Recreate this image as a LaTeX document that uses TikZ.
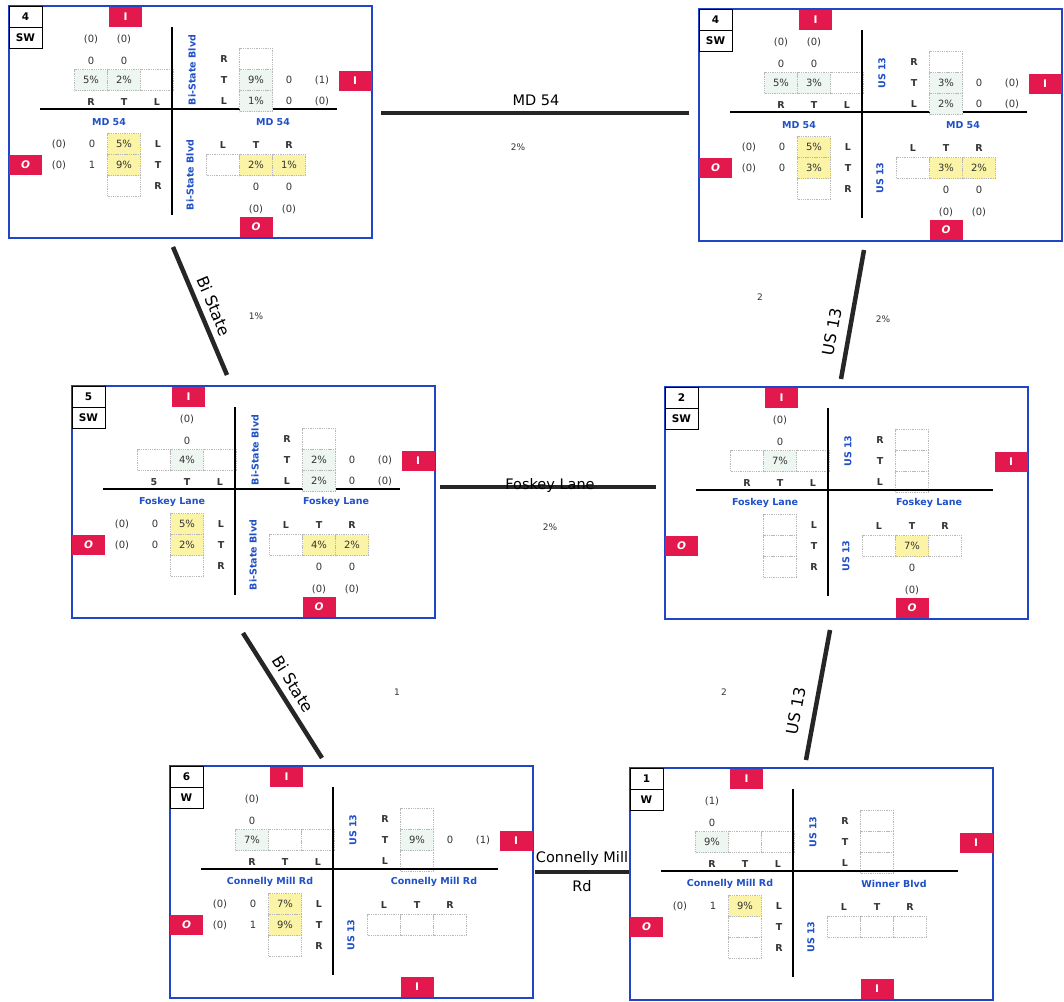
\documentclass[tikz,border=0pt]{standalone}
\usepackage{fontspec}
\setmainfont{DejaVu Sans}
\usetikzlibrary{positioning,calc}
\definecolor{frm}{HTML}{1F45C8}
\definecolor{tagred}{HTML}{E3184C}
\definecolor{mnt}{HTML}{EEF6F1}
\definecolor{yel}{HTML}{FBF4A6}
\definecolor{rdblue}{HTML}{1F50C8}
\definecolor{txt}{HTML}{333333}
% one intersection panel: name, top-left corner, number, direction, south tag, N-S road, west road, east road, first TL label
\newcommand{\junction}[9]{%
\begin{scope}[shift={#2}]
 \draw[jbox] (0,0) rectangle (363,232);
 \node[idx] (#1-no) at (16.5,10.5) {#3}; \node[idx] (#1-dir) at (16.5,31.5) {#4};
 \node[tag] (#1-in) at (116.5,11) {I}; \node[tag] (#1-ie) at (346,74.5) {I};
 \node[tag] (#1-ow) at (16.5,158.5) {\itshape O}; \node[tag] (#1-os) at (247,221) {#5};
 \foreach \xx [count=\i] in {82,115,148} {\node[cell] (#1-tl\i) at (\xx,74) {}; \node[cell] (#1-br\i) at (\xx+132,159) {};}
 \foreach \yy [count=\i] in {53,74,95} {\node[cell] (#1-tr\i) at (247,\yy) {}; \node[cell] (#1-bl\i) at (115,\yy+85) {};}
 \draw[cross] (163,21) -- (163,209) (31,103) -- (328,103);
 \foreach \l/\xx [count=\i] in {#9/82,T/115,L/148} \node[lab] (#1-tll\i) at (\xx,96) {\l};
 \foreach \l/\yy [count=\i] in {R/53,T/74,L/95} \node[lab] (#1-trl\i) at (215,\yy) {\l};
 \foreach \l/\yy [count=\i] in {L/138,T/159,R/180} \node[lab] (#1-bll\i) at (149,\yy) {\l};
 \foreach \l/\xx [count=\i] in {L/214,T/247,R/280} \node[lab] (#1-brl\i) at (\xx,139) {\l};
 \node[rname, rotate=90] (#1-nv) at (183,64) {#6}; \node[rname, rotate=90] (#1-sv) at (181,169) {#6};
 \node[rname] (#1-wh) at (100,116) {#7}; \node[rname] (#1-eh) at (264,116) {#8};
\end{scope}}
\newcommand{\fillc}[3]{\node[cell=#2] (#1f) at (#1) {#3};}
\newcommand{\upv}[3]{\node[val] (#1a) at ([yshift=19pt]#1) {#2}; \node[val] (#1b) at ([yshift=41pt]#1) {#3};}
\newcommand{\rtv}[3]{\node[val] (#1a) at ([xshift=33pt]#1) {#2}; \node[val] (#1b) at ([xshift=66pt]#1) {#3};}
\newcommand{\lfv}[3]{\node[val] (#1a) at ([xshift=-32pt]#1) {#2}; \node[val] (#1b) at ([xshift=-65pt]#1) {#3};}
\newcommand{\dnv}[3]{\node[val] (#1a) at ([yshift=-22pt]#1) {#2}; \node[val] (#1b) at ([yshift=-44pt]#1) {#3};}
\begin{document}
\begin{tikzpicture}[x=1pt, y=-1pt,
  jbox/.style={draw=frm, line width=1.8pt},
  idx/.style={draw, line width=1pt, minimum width=33pt, minimum height=21pt, inner sep=0pt, font=\fontsize{10.5}{12}\selectfont\bfseries},
  tag/.style={fill=tagred, text=white, minimum width=33pt, minimum height=20pt, inner sep=0pt, font=\fontsize{10.5}{12}\selectfont\bfseries},
  cell/.style={draw=gray!55, densely dotted, line width=0.8pt, fill=#1, minimum width=33pt, minimum height=21pt, inner sep=0pt, font=\fontsize{10}{12}\selectfont, text=txt},
  cell/.default=white,
  lab/.style={inner sep=0pt, font=\fontsize{9.5}{11}\selectfont\bfseries, text=black!80},
  val/.style={inner sep=0pt, font=\fontsize{10}{12}\selectfont, text=txt},
  rname/.style={inner sep=0pt, font=\fontsize{9.5}{11}\selectfont\bfseries, text=rdblue},
  cross/.style={line width=1.9pt},
  conn/.style={line width=4.5pt, draw=black!85},
  clab/.style={inner sep=0pt, font=\fontsize{14.5}{16}\selectfont},
  slab/.style={inner sep=0pt, font=\fontsize{16}{18}\selectfont},
  pct/.style={inner sep=0pt, font=\fontsize{9}{10}\selectfont, text=txt}]
\path[fill=white, use as bounding box] (0,0) rectangle (1064,1001);
% panels
\junction{b1}{(9,6)}{4}{SW}{\itshape O}{Bi-State Blvd}{MD 54}{MD 54}{R}
\fillc{b1-tl1}{mnt}{5\%} \fillc{b1-tl2}{mnt}{2\%} \fillc{b1-tr2}{mnt}{9\%} \fillc{b1-tr3}{mnt}{1\%}
\fillc{b1-bl1}{yel}{5\%} \fillc{b1-bl2}{yel}{9\%} \fillc{b1-br2}{yel}{2\%} \fillc{b1-br3}{yel}{1\%}
\upv{b1-tl1}{0}{(0)} \upv{b1-tl2}{0}{(0)} \rtv{b1-tr2}{0}{(1)} \rtv{b1-tr3}{0}{(0)}
\lfv{b1-bl1}{0}{(0)} \lfv{b1-bl2}{1}{(0)} \dnv{b1-br2}{0}{(0)} \dnv{b1-br3}{0}{(0)}
\junction{b2}{(699,9)}{4}{SW}{\itshape O}{US 13}{MD 54}{MD 54}{R}
\fillc{b2-tl1}{mnt}{5\%} \fillc{b2-tl2}{mnt}{3\%} \fillc{b2-tr2}{mnt}{3\%} \fillc{b2-tr3}{mnt}{2\%}
\fillc{b2-bl1}{yel}{5\%} \fillc{b2-bl2}{yel}{3\%} \fillc{b2-br2}{yel}{3\%} \fillc{b2-br3}{yel}{2\%}
\upv{b2-tl1}{0}{(0)} \upv{b2-tl2}{0}{(0)} \rtv{b2-tr2}{0}{(0)} \rtv{b2-tr3}{0}{(0)}
\lfv{b2-bl1}{0}{(0)} \lfv{b2-bl2}{0}{(0)} \dnv{b2-br2}{0}{(0)} \dnv{b2-br3}{0}{(0)}
\junction{b3}{(72,386)}{5}{SW}{\itshape O}{Bi-State Blvd}{Foskey Lane}{Foskey Lane}{5}
\fillc{b3-tl2}{mnt}{4\%} \fillc{b3-tr2}{mnt}{2\%} \fillc{b3-tr3}{mnt}{2\%}
\fillc{b3-bl1}{yel}{5\%} \fillc{b3-bl2}{yel}{2\%} \fillc{b3-br2}{yel}{4\%} \fillc{b3-br3}{yel}{2\%}
\upv{b3-tl2}{0}{(0)} \rtv{b3-tr2}{0}{(0)} \rtv{b3-tr3}{0}{(0)}
\lfv{b3-bl1}{0}{(0)} \lfv{b3-bl2}{0}{(0)} \dnv{b3-br2}{0}{(0)} \dnv{b3-br3}{0}{(0)}
\junction{b4}{(665,387)}{2}{SW}{\itshape O}{US 13}{Foskey Lane}{Foskey Lane}{R}
\fillc{b4-tl2}{mnt}{7\%} \fillc{b4-br2}{yel}{7\%}
\upv{b4-tl2}{0}{(0)} \dnv{b4-br2}{0}{(0)}
\junction{b5}{(170,766)}{6}{W}{I}{US 13}{Connelly Mill Rd}{Connelly Mill Rd}{R}
\fillc{b5-tl1}{mnt}{7\%} \fillc{b5-tr2}{mnt}{9\%} \fillc{b5-bl1}{yel}{7\%} \fillc{b5-bl2}{yel}{9\%}
\upv{b5-tl1}{0}{(0)} \rtv{b5-tr2}{0}{(1)} \lfv{b5-bl1}{0}{(0)} \lfv{b5-bl2}{1}{(0)}
\junction{b6}{(630,768)}{1}{W}{I}{US 13}{Connelly Mill Rd}{Winner Blvd}{R}
\fillc{b6-tl1}{mnt}{9\%} \fillc{b6-bl1}{yel}{9\%}
\upv{b6-tl1}{0}{(1)} \lfv{b6-bl1}{1}{(0)}
% roads between panels
\coordinate (md-w) at (381,113); \coordinate (md-e) at (689,113);
\draw[conn] (md-w) -- (md-e);
\node[clab] (md-lab) at (536,100) {MD 54}; \node[pct] (md-pct) at (518,147) {2\%};
\coordinate (bs1-n) at (173,247); \coordinate (bs1-s) at (227,375);
\draw[conn] (bs1-n) -- (bs1-s);
\node[slab, rotate=-67] (bs1-lab) at (214,306) {Bi State}; \node[pct] (bs1-pct) at (256,316) {1\%};
\coordinate (us1-n) at (864,250); \coordinate (us1-s) at (841,379);
\draw[conn] (us1-n) -- (us1-s);
\node[slab, rotate=80] (us1-lab) at (832,332) {US 13};
\node[pct] (us1-q) at (760,297) {2}; \node[pct] (us1-pct) at (883,319) {2\%};
\coordinate (fl-w) at (440,487); \coordinate (fl-e) at (656,487);
\draw[conn] (fl-w) -- (fl-e);
\node[clab, anchor=base] (fl-lab) at (550,489) {Foskey Lane}; \node[pct] (fl-pct) at (550,527) {2\%};
\coordinate (bs2-n) at (243,633); \coordinate (bs2-s) at (322,758);
\draw[conn] (bs2-n) -- (bs2-s);
\node[slab, rotate=-58] (bs2-lab) at (293,684) {Bi State}; \node[pct] (bs2-q) at (397,692) {1};
\coordinate (us2-n) at (830,630); \coordinate (us2-s) at (806,760);
\draw[conn] (us2-n) -- (us2-s);
\node[slab, rotate=80] (us2-lab) at (796,711) {US 13}; \node[pct] (us2-q) at (724,692) {2};
\coordinate (cm-w) at (535,872); \coordinate (cm-e) at (629,872);
\draw[conn] (cm-w) -- (cm-e);
\node[clab] (cm-lab) at (582,858) {Connelly Mill}; \node[clab] (cm-rd) at (582,886) {Rd};
\end{tikzpicture}
\end{document}
